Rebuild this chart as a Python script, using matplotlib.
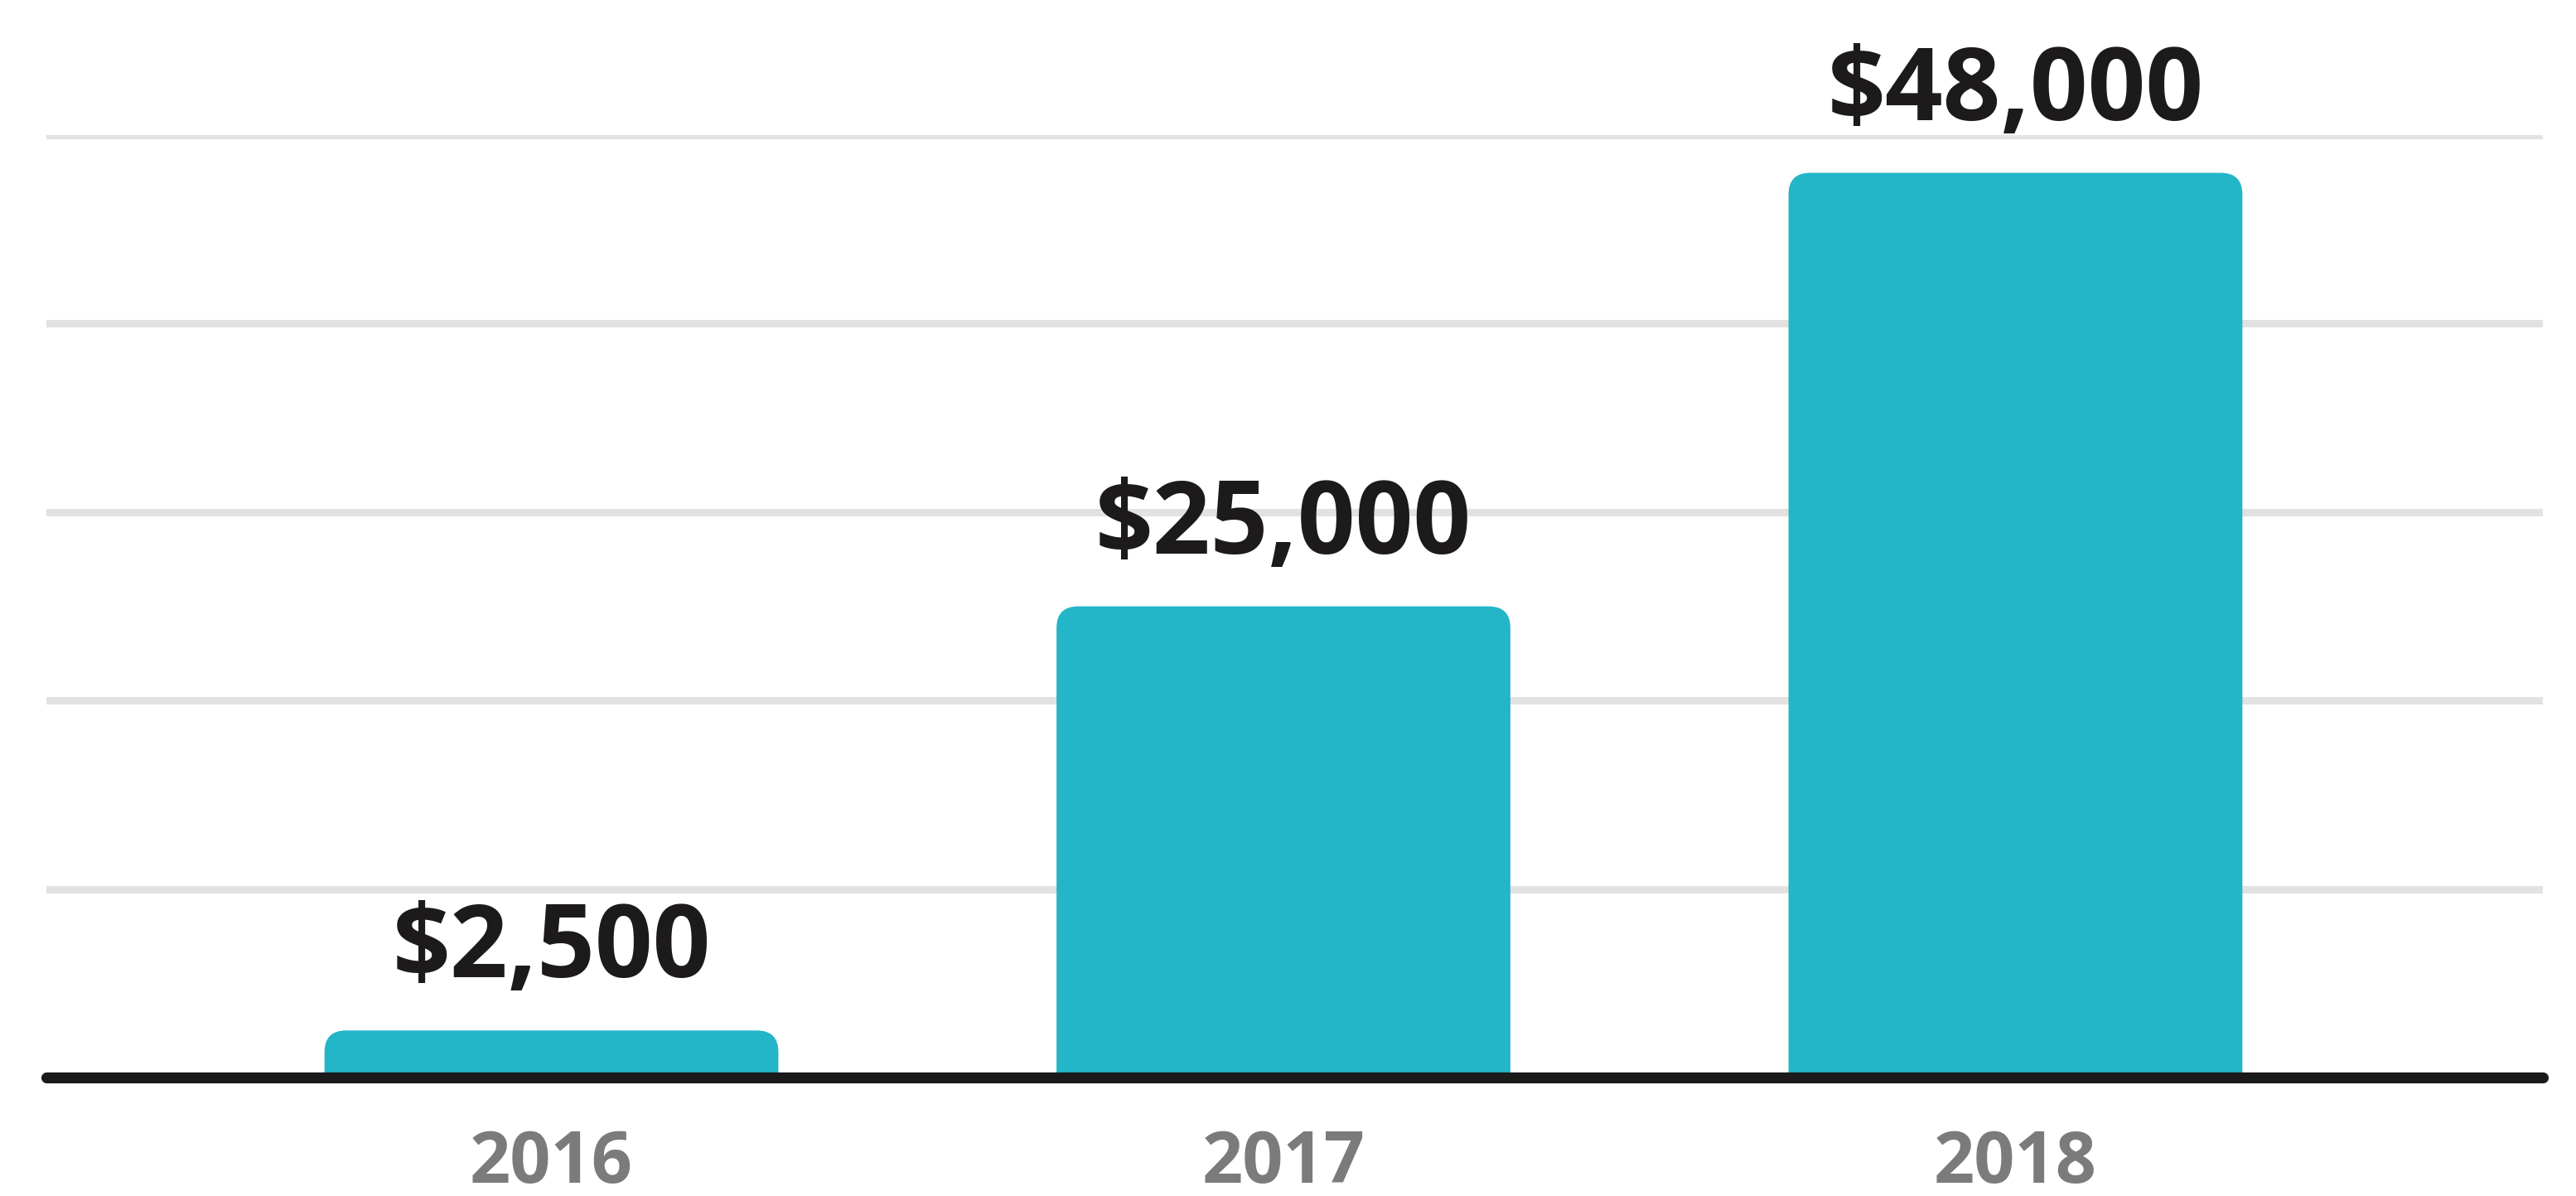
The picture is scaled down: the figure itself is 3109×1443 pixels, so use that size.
import matplotlib
matplotlib.use("Agg")
import matplotlib.pyplot as plt
from matplotlib.patches import FancyBboxPatch

years = ["2016", "2017", "2018"]
amounts = [2500, 25000, 48000]
labels = ["$2,500", "$25,000", "$48,000"]
grid_ticks = [0, 10000, 20000, 30000, 40000, 50000]

bar_color = "#23b5c8"

plt.rcParams["font.family"] = ["Open Sans", "DejaVu Sans"]

fig = plt.figure(figsize=(31.09, 14.43), dpi=100)
ax = fig.add_axes([0.018, 0.099, 0.969, 0.788])

x = list(range(len(years)))
bars = ax.bar(x, amounts, width=0.62, color=bar_color, zorder=2)

ax.set_xlim(-0.69, 2.72)
ax.set_ylim(0, 50000)
ax.set_yticks(grid_ticks)
ax.yaxis.grid(True, color="#e2e2e2", linewidth=6.5, solid_capstyle="round", zorder=0)
ax.set_axisbelow(True)

# rounded top corners: swap each bar for a rounded box that dips below the axis
fig.canvas.draw()
px_x = ax.transData.transform((1, 0))[0] - ax.transData.transform((0, 0))[0]
px_y = ax.transData.transform((0, 1))[1] - ax.transData.transform((0, 0))[1]
radius_px = 26
for b in bars:
    b.set_visible(False)
    x0, w, h = b.get_x(), b.get_width(), b.get_height()
    patch = FancyBboxPatch((x0, -3000), w, h + 3000,
                           boxstyle="round,pad=0,rounding_size=%f" % (radius_px / px_x),
                           mutation_aspect=px_x / px_y,
                           facecolor=bar_color, edgecolor="none", zorder=2)
    ax.add_patch(patch)

for xi, v, lab in zip(x, amounts, labels):
    ax.annotate(lab, (xi, v), xytext=(0, 64), textcoords="offset pixels",
                ha="center", va="baseline", fontsize=88, fontweight="bold",
                color="#1c1a1b", zorder=3, annotation_clip=False)

ax.axhline(0, color="#1a1a1a", linewidth=9.5, solid_capstyle="round", zorder=4, clip_on=False)

for s in ax.spines.values():
    s.set_visible(False)
ax.set_yticklabels([])
ax.tick_params(axis="y", length=0)
ax.set_xticks(x)
ax.set_xticklabels(years, fontsize=62, fontweight="bold", color="#7b7b7b")
ax.tick_params(axis="x", length=0, pad=44)

fig.savefig("out.png", dpi=100, facecolor="white")
